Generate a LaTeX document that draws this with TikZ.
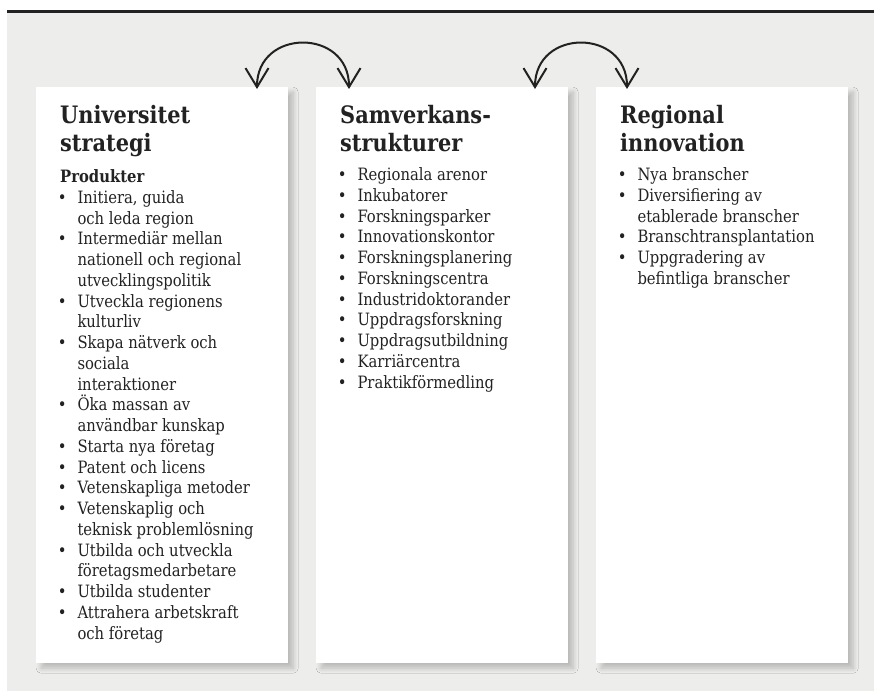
\documentclass[tikz,border=0pt]{standalone}
\usepackage{fontspec}
\setmainfont{DejaVu Serif}[FakeStretch=0.87]
\usetikzlibrary{arrows.meta,shadows.blur}
\definecolor{bg}{HTML}{EDEDEB}
\definecolor{ink}{HTML}{222222}
\tikzset{
  panel/.style={fill=white, draw=none, anchor=north west, minimum width=252pt,
    minimum height=576pt, inner sep=0pt,
    blur shadow={shadow xshift=5pt, shadow yshift=-5pt, shadow blur radius=5pt,
      shadow blur steps=10, shadow opacity=22}},
  headtext/.style={inner sep=0pt, anchor=base west, text=ink, font=\fontsize{24}{28}\selectfont\bfseries},
  subhead/.style={inner sep=0pt, anchor=base west, text=ink, font=\fontsize{17}{20}\selectfont\bfseries},
  itemtext/.style={inner sep=0pt, text=ink, font=\fontsize{17}{20}\selectfont},
  swap/.style={line width=2pt, draw=ink, {Straight Barb[length=19pt,width=23pt]}-{Straight Barb[length=19pt,width=23pt]}},
}
% bullet list: #1 name prefix, #2 heading x, #3 first baseline, #4 flag/text pairs
\newcommand\bulletlines[4]{%
  \foreach [count=\i] \b/\t in {#4} {
    \pgfmathsetmacro\yy{-(#3+(\i-1)*20.75)}
    \node[itemtext, anchor=base west] (#1\i) at (#2+17.3,\yy) {\t};
    \ifnum\b=1 \node[itemtext, anchor=base] (#1b\i) at (#2+2.3,\yy) {\textbullet}; \fi
  }%
}
\begin{document}
\begin{tikzpicture}[x=1pt,y=1pt]
\useasboundingbox (0,0) rectangle (874,-691);
% backdrop and top rule
\fill[bg] (7,-12.5) rectangle (874,-691);
\fill[ink] (7,-9.5) rectangle (874,-12.8);

% panels
\node[panel] (p1) at (36,-87) {};
\node[panel] (p2) at (316,-87) {};
\node[panel] (p3) at (596,-87) {};

% panel 1
\node[headtext] (h1a) at (60,-123.3) {Universitet};
\node[headtext] (h1b) at (60,-151.7) {strategi};
\node[subhead] (h1c) at (60,-182.7) {Produkter};
\bulletlines{u}{60}{203.3}{1/{Initiera, guida}, 0/{och leda region}, 1/{Intermediär mellan},
  0/{nationell och regional}, 0/{utvecklingspolitik}, 1/{Utveckla regionens}, 0/{kulturliv},
  1/{Skapa nätverk och}, 0/{sociala}, 0/{interaktioner}, 1/{Öka massan av},
  0/{användbar kunskap}, 1/{Starta nya företag}, 1/{Patent och licens},
  1/{Vetenskapliga metoder}, 1/{Vetenskaplig och}, 0/{teknisk problemlösning},
  1/{Utbilda och utveckla}, 0/{företagsmedarbetare}, 1/{Utbilda studenter},
  1/{Attrahera arbetskraft}, 0/{och företag}}

% panel 2
\node[headtext] (h2a) at (340,-123.3) {Samverkans-};
\node[headtext] (h2b) at (340,-151.7) {strukturer};
\bulletlines{s}{340}{180.7}{1/{Regionala arenor}, 1/{Inkubatorer}, 1/{Forskningsparker},
  1/{Innovationskontor}, 1/{Forskningsplanering}, 1/{Forskningscentra},
  1/{Industridoktorander}, 1/{Uppdragsforskning}, 1/{Uppdragsutbildning},
  1/{Karriärcentra}, 1/{Praktikförmedling}}

% panel 3
\node[headtext] (h3a) at (620,-123.3) {Regional};
\node[headtext] (h3b) at (620,-151.7) {innovation};
\bulletlines{r}{620}{180.7}{1/{Nya branscher}, 1/{Diversifiering av}, 0/{etablerade branscher},
  1/{Branschtransplantation}, 1/{Uppgradering av}, 0/{befintliga branscher}}

% exchange arrows between neighbouring panels
\coordinate (a1l) at (257,-89);
\coordinate (a1r) at (349,-89);
\coordinate (a2l) at (535,-89);
\coordinate (a2r) at (627,-89);
\draw[swap] (a1l) to[out=90,in=90,looseness=1.7] (a1r);
\draw[swap] (a2l) to[out=90,in=90,looseness=1.7] (a2r);
\end{tikzpicture}
\end{document}
